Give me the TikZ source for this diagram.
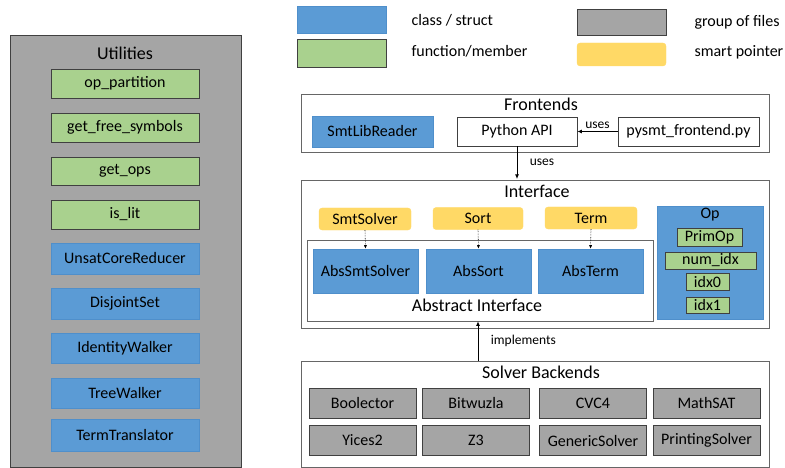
\documentclass[tikz,border=0pt]{standalone}
\usepackage{fontspec}
\setmainfont{Carlito}
\usetikzlibrary{arrows.meta}
\definecolor{cblue}{HTML}{5B9BD5}
\definecolor{cblueb}{HTML}{4F8FCB}
\definecolor{cgreen}{HTML}{A9D18E}
\definecolor{cyellow}{HTML}{FFD966}
\definecolor{cgray}{HTML}{A5A5A5}
\definecolor{cdark}{HTML}{404040}
\tikzset{
  lbl/.style={font=\fontsize{16}{18}\selectfont, text=black},
  ttl/.style={font=\fontsize{18}{20}\selectfont, text=black},
  sml/.style={font=\fontsize{13.5}{15}\selectfont, text=black},
  bluebox/.style={fill=cblue, draw=cblueb, line width=0.6pt},
  greenbox/.style={fill=cgreen, draw=cdark, line width=0.8pt},
  graybox/.style={fill=cgray, draw=cdark, line width=0.6pt},
  yellowbox/.style={fill=cyellow, draw=cyellow, line width=0.3pt, rounded corners=3pt},
  whitebox/.style={fill=white, draw=cdark, line width=0.6pt},
  groupbox/.style={fill=white, draw=cdark!80, line width=0.6pt},
  arr/.style={-{Latex[length=4.5pt,width=4pt]}, line width=0.9pt},
  dotarr/.style={-{Latex[length=3.5pt,width=3pt]}, densely dotted, line width=0.6pt},
}
\begin{document}
\begin{tikzpicture}[x=1pt,y=-1pt]
\useasboundingbox (0,0) rectangle (785,468);
% ---------- Utilities
\draw[graybox] (10,35) rectangle (241,467);
\node[ttl] (utitle) at (125,53) {Utilities};
\newcommand{\ubox}[5]{%
  \draw[#1] (51,#2) rectangle (199,#3);
  \node[lbl] (#4) at (125,{(#2+#3)/2}) {#5};}
\ubox{greenbox}{69}{98}{u1}{op\_partition}
\ubox{greenbox}{113}{142}{u2}{get\_free\_symbols}
\ubox{greenbox}{157}{185}{u3}{get\_ops}
\ubox{greenbox}{200}{229}{u4}{is\_lit}
\ubox{bluebox}{243}{274}{u5}{UnsatCoreReducer}
\ubox{bluebox}{288}{319}{u6}{DisjointSet}
\ubox{bluebox}{333}{363}{u7}{IdentityWalker}
\ubox{bluebox}{378}{408}{u8}{TreeWalker}
\ubox{bluebox}{419}{451}{u9}{TermTranslator}
% ---------- Legend
\draw[bluebox] (297,6) rectangle (386,33);
\draw[greenbox] (297,39) rectangle (386,67);
\draw[graybox] (577,9) rectangle (666,35);
\draw[yellowbox] (577,43) rectangle (666,66);
\node[lbl, anchor=west] (lg1) at (408,20) {class / struct};
\node[lbl, anchor=west] (lg2) at (408,51) {function/member};
\node[lbl, anchor=west] (lg3) at (691,22) {group of files};
\node[lbl, anchor=west] (lg4) at (691,52) {smart pointer};
% ---------- Frontends
\draw[groupbox] (301,94) rectangle (769,152);
\node[ttl] (ftitle) at (541,104) {Frontends};
\draw[bluebox] (312,116) rectangle (433,147);
\node[lbl] (smtlib) at (372.5,131.5) {SmtLibReader};
\node[whitebox, lbl, minimum width=120pt, minimum height=29pt, inner sep=0pt] (pyapi) at (517,131.5) {Python API};
\node[whitebox, lbl, minimum width=141pt, minimum height=29pt, inner sep=0pt] (pysmt) at (688.5,131.5) {pysmt\_frontend.py};
\draw[arr] (pysmt.west) -- node[sml, above=-1pt] {uses} (pyapi.east);
% ---------- Interface
\draw[groupbox] (301,180) rectangle (769,328);
\node[ttl] (ititle) at (537,191) {Interface};
\node[groupbox, minimum width=346pt, minimum height=81pt, inner sep=0pt] (absif) at (480,280.5) {};
\node[ttl] (abslbl) at (477,305) {Abstract Interface};
\node[yellowbox, lbl, minimum width=92pt, minimum height=22pt, inner sep=0pt] (ys) at (365,219) {SmtSolver};
\node[yellowbox, lbl, minimum width=90pt, minimum height=22pt, inner sep=0pt] (yo) at (478,218.5) {Sort};
\node[yellowbox, lbl, minimum width=92pt, minimum height=22pt, inner sep=0pt] (yt) at (591,218) {Term};
\node[bluebox, lbl, minimum width=105pt, minimum height=44pt, inner sep=0pt] (as) at (365.5,271) {AbsSmtSolver};
\node[bluebox, lbl, minimum width=105pt, minimum height=44pt, inner sep=0pt] (ao) at (478.5,271) {AbsSort};
\node[bluebox, lbl, minimum width=105pt, minimum height=44pt, inner sep=0pt] (at) at (590.5,271) {AbsTerm};
\draw[dotarr] (ys.south) -- (as.north);
\draw[dotarr] (yo.south) -- (ao.north);
\draw[dotarr] (yt.south) -- (at.north);
% Op
\draw[bluebox] (657,206) rectangle (763,319);
\node[lbl] (optitle) at (710,215) {Op};
\node[greenbox, lbl, minimum width=65pt, minimum height=18pt, inner sep=0pt] (primop) at (709.5,237) {PrimOp};
\node[greenbox, lbl, minimum width=91pt, minimum height=17pt, inner sep=0pt] (numidx) at (710.5,260.5) {num\_idx};
\node[greenbox, lbl, minimum width=43pt, minimum height=17pt, inner sep=0pt] (idx0) at (707.5,281.5) {idx0};
\node[greenbox, lbl, minimum width=43pt, minimum height=16pt, inner sep=0pt] (idx1) at (707.5,305) {idx1};
\draw[arr] (pyapi.south) -- node[sml, right=9pt] {uses} (pyapi.south |- 0,179);
% ---------- Solver Backends
\draw[groupbox] (301,361) rectangle (769,467);
\node[ttl] (stitle) at (541,372) {Solver Backends};
\coordinate (sbtop) at (478,361);
\draw[arr] (sbtop) -- node[sml, right=9pt, pos=0.5] {implements} (sbtop |- absif.south);
\tikzset{sbox/.style={graybox, lbl, minimum width=107pt, minimum height=30pt, inner sep=0pt}}
\node[sbox] (b1) at (362.5,403) {Boolector};
\node[sbox] (b2) at (476,403) {Bitwuzla};
\node[sbox] (b3) at (593,403) {CVC4};
\node[sbox] (b4) at (706.5,403) {MathSAT};
\node[sbox] (b5) at (362.5,440.5) {Yices2};
\node[sbox] (b6) at (476,440.5) {Z3};
\node[sbox] (b7) at (593,440.5) {GenericSolver};
\node[sbox] (b8) at (706.5,440.5) {PrintingSolver};
\end{tikzpicture}
\end{document}
